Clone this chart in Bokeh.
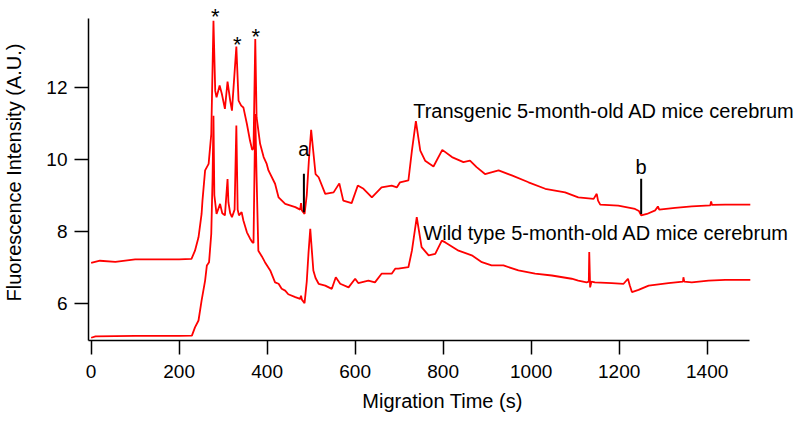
from bokeh.plotting import figure
from bokeh.models import Range1d, FixedTicker, Label, ColumnDataSource
from bokeh.embed import file_html
from bokeh.resources import INLINE

# Transgenic 5-month-old AD mice cerebrum (upper trace)
tg_time = [0, 20, 55, 100, 150, 200, 228, 236, 244, 251, 253, 259, 267, 273, 278, 282, 285, 292, 297,
           304, 310, 316, 320, 330, 335, 341, 346, 354, 361, 366, 369, 373, 376, 384, 392, 399, 403,
           418, 426, 441, 464, 475, 477, 479, 485, 490, 495, 500, 505, 510, 517, 532, 551, 564, 573,
           592, 606, 619, 638, 660, 683, 695, 702, 721, 729, 738, 748, 759, 778, 798, 820, 846, 861,
           876, 895, 926, 956, 994, 1032, 1077, 1107, 1142, 1149, 1152, 1157, 1198, 1236, 1245, 1250,
           1263, 1282, 1288, 1291, 1327, 1365, 1407, 1409, 1411, 1441, 1498]
tg_signal = [7.12, 7.18, 7.15, 7.22, 7.22, 7.22, 7.23, 7.46, 7.83, 8.48, 8.85, 9.69, 9.87, 10.7, 13.85,
             11.9, 11.72, 12.05, 11.82, 11.4, 12.16, 11.63, 11.35, 13.13, 11.63, 11.49, 11.44, 10.98,
             10.52, 10.26, 10.3, 13.34, 11.17, 10.43, 10.06, 9.87, 9.69, 9.32, 8.94, 8.76, 8.67, 8.6,
             8.78, 8.58, 8.48, 9.0, 10.0, 10.82, 10.2, 9.59, 9.5, 9.04, 9.08, 9.33, 8.85, 8.78, 9.27,
             9.18, 8.94, 9.22, 9.27, 9.22, 9.36, 9.41, 10.24, 11.06, 10.24, 9.96, 9.8, 10.26, 10.06,
             9.92, 9.96, 9.78, 9.59, 9.69, 9.55, 9.36, 9.18, 9.08, 8.94, 8.9, 9.04, 8.85, 8.74, 8.71,
             8.62, 8.56, 8.44, 8.48, 8.58, 8.69, 8.6, 8.65, 8.69, 8.72, 8.83, 8.73, 8.74, 8.74]

# Wild type 5-month-old AD mice cerebrum (lower trace)
wt_time = [0, 10, 100, 200, 229, 236, 244, 251, 259, 263, 268, 273, 276, 278, 280, 285, 293, 298, 304,
           310, 312, 316, 320, 326, 330, 333, 336, 342, 346, 354, 361, 366, 369, 373, 376, 380, 388,
           395, 407, 418, 426, 433, 441, 448, 464, 475, 477, 479, 485, 490, 494, 498, 502, 505, 510,
           517, 532, 547, 556, 566, 585, 600, 607, 630, 645, 660, 683, 691, 698, 721, 729, 740, 751,
           767, 782, 797, 805, 835, 865, 888, 910, 937, 971, 1009, 1047, 1092, 1107, 1126, 1131,
           1132, 1134, 1137, 1145, 1183, 1210, 1220, 1224, 1229, 1244, 1267, 1312, 1345, 1346, 1348,
           1365, 1403, 1441, 1498]
wt_signal = [5.04, 5.08, 5.09, 5.09, 5.1, 5.33, 5.52, 6.07, 6.63, 7.05, 7.14, 7.93, 9.5, 11.21, 9.0,
             8.48, 8.76, 8.5, 8.44, 9.45, 8.8, 8.5, 8.39, 8.6, 10.94, 8.6, 8.44, 8.53, 8.3, 7.97, 7.8,
             7.7, 7.67, 11.26, 9.5, 7.46, 7.3, 7.14, 6.91, 6.58, 6.54, 6.4, 6.35, 6.25, 6.17, 6.12,
             6.21, 6.1, 6.0, 6.6, 7.4, 8.07, 7.4, 6.91, 6.7, 6.54, 6.49, 6.4, 6.72, 6.54, 6.44, 6.68,
             6.56, 6.63, 6.58, 6.82, 6.82, 6.96, 6.96, 7.0, 7.46, 8.39, 7.56, 7.33, 7.37, 7.74, 7.69,
             7.46, 7.33, 7.14, 7.05, 7.05, 6.91, 6.82, 6.77, 6.68, 6.63, 6.58, 6.6, 7.42, 6.44, 6.6,
             6.58, 6.56, 6.54, 6.68, 6.5, 6.31, 6.37, 6.49, 6.56, 6.6, 6.72, 6.6, 6.58, 6.63, 6.65, 6.65]

x_ticks = [0, 200, 400, 600, 800, 1000, 1200, 1400]
y_ticks = [6, 8, 10, 12]

# peak markers (asterisks) and marker lines a / b
star_time = [282, 332, 374]
star_level = [13.98, 13.2, 13.4]
mark_text = ["a", "b"]
mark_time = [483.5, 1250]
mark_top = [9.6, 9.46]
mark_bottom = [8.53, 8.48]
mark_label_level = [10.28, 9.78]

trace_names = ["Transgenic 5-month-old AD mice cerebrum", "Wild type 5-month-old AD mice cerebrum"]
trace_name_time = [732, 755]
trace_name_level = [11.35, 7.95]

FONT = "Liberation Sans"

# axes span -6..1496 (x) and 4.964..13.91 (y); frame is a bit larger so texts are not clipped
p = figure(frame_width=708, frame_height=336, x_range=Range1d(-6, 1603), y_range=Range1d(4.964, 14.30),
           output_backend="svg", toolbar_location=None,
           min_border_left=82, min_border_top=4, min_border_right=0, min_border_bottom=78)
p.outline_line_color = None
p.grid.visible = False
p.background_fill_color = "white"
p.border_fill_color = "white"

p.line(tg_time, tg_signal, line_color="#ff0000", line_width=1.8)
p.line(wt_time, wt_signal, line_color="#ff0000", line_width=1.8)

src = ColumnDataSource(dict(x=mark_time, y0=mark_top, y1=mark_bottom))
p.segment(x0="x", y0="y0", x1="x", y1="y1", source=src, line_color="black", line_width=2)

for xs, ys in zip(star_time, star_level):
    p.add_layout(Label(x=xs, y=ys, text="*", text_font=FONT, text_font_size="22px",
                       text_align="center", text_baseline="alphabetic", text_color="black"))
for t, xs, ys in zip(mark_text, mark_time, mark_label_level):
    p.add_layout(Label(x=xs, y=ys, text=t, text_font=FONT, text_font_size="20px",
                       text_align="center", text_baseline="alphabetic", text_color="black"))
for t, xs, ys in zip(trace_names, trace_name_time, trace_name_level):
    p.add_layout(Label(x=xs, y=ys, text=t, text_font=FONT, text_font_size="20px",
                       text_align="left", text_baseline="alphabetic", text_color="black"))

for ax in (p.xaxis[0], p.yaxis[0]):
    ax.axis_line_width = 1.5
    ax.axis_line_color = "black"
    ax.major_tick_line_width = 1.5
    ax.major_tick_line_color = "black"
    ax.major_tick_in = 0
    ax.minor_tick_line_color = None
    ax.major_label_text_font = FONT
    ax.major_label_text_font_size = "19px"
    ax.major_label_text_color = "black"
    ax.axis_label_text_font = FONT
    ax.axis_label_text_font_size = "20px"
    ax.axis_label_text_font_style = "normal"
    ax.axis_label_text_color = "black"

p.xaxis.bounds = (-6, 1496)
p.yaxis.bounds = (4.964, 13.91)
p.xaxis.ticker = FixedTicker(ticks=x_ticks)
p.yaxis.ticker = FixedTicker(ticks=y_ticks)
p.xaxis.major_tick_out = 14
p.yaxis.major_tick_out = 14
p.xaxis.major_label_standoff = 10
p.yaxis.major_label_standoff = 7
p.xaxis.axis_label = "Migration Time (s)"
p.yaxis.axis_label = "Fluorescence Intensity (A.U.)"
p.xaxis.axis_label_standoff = 9
p.yaxis.axis_label_standoff = 18

open("out.html", "w").write(file_html(p, INLINE))
